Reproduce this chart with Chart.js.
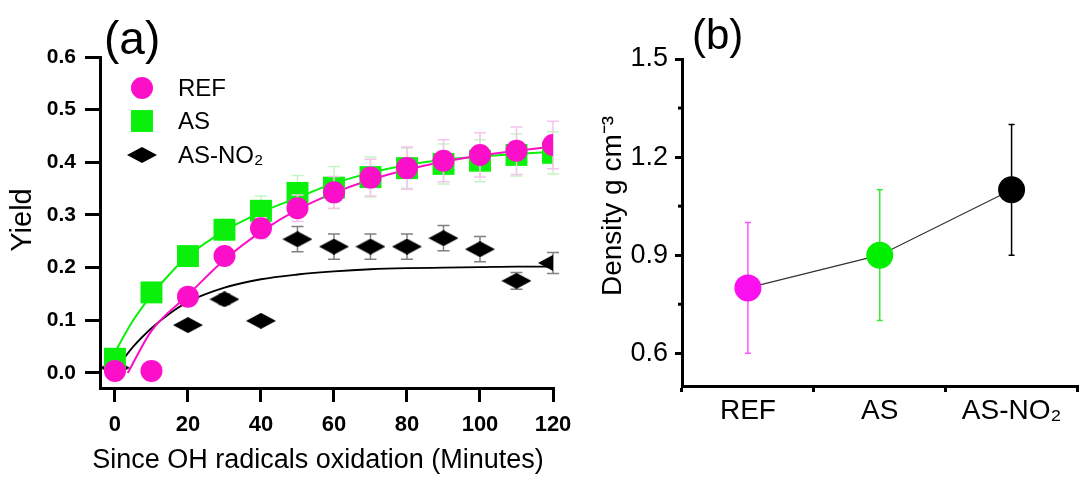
<!DOCTYPE html>
<html>
<head>
<meta charset="utf-8">
<script src="https://cdn.jsdelivr.net/npm/chart.js@4.4.1/dist/chart.umd.min.js"></script>
<style>
  html, body { margin: 0; padding: 0; background: #fff; }
  #wrap { position: relative; width: 1091px; height: 478px; overflow: hidden; }
  #chartA { position: absolute; left: 0; top: 0; }
  #chartB { position: absolute; left: 560px; top: 0; }
</style>
</head>
<body>
<div id="wrap">
  <canvas id="chartA" width="600" height="478"></canvas>
  <canvas id="chartB" width="531" height="478"></canvas>
</div>
<script>
// panel (a): yield vs time
const times = [0, 10, 20, 30, 40, 50, 60, 70, 80, 90, 100, 110, 120];
const refYield = [0.004, 0.004, 0.145, 0.222, 0.275, 0.313, 0.343, 0.371, 0.389, 0.403, 0.414, 0.422, 0.433];
const refErr = [0, 0, 0.01, 0.015, 0.02, 0.025, 0.03, 0.035, 0.04, 0.04, 0.042, 0.045, 0.045];
const asYield = [0.027, 0.153, 0.222, 0.272, 0.308, 0.342, 0.352, 0.372, 0.389, 0.397, 0.403, 0.414, 0.418];
const asErr = [0, 0.005, 0.01, 0.02, 0.028, 0.033, 0.04, 0.038, 0.038, 0.038, 0.04, 0.04, 0.04];
const no2Yield = [0.01, null, 0.091, 0.14, 0.099, 0.254, 0.24, 0.24, 0.24, 0.256, 0.235, 0.175, 0.209];
const no2Err = [0, null, 0, 0.01, 0, 0.024, 0.024, 0.024, 0.024, 0.024, 0.024, 0.016, 0.02];

// fitted curves
const refFitX = [3.5, 10, 20, 30, 40, 50, 60, 70, 80, 90, 100, 110, 120];
const refFitY = [0, 0.08, 0.148, 0.215, 0.268, 0.31, 0.342, 0.367, 0.386, 0.401, 0.413, 0.422, 0.43];
const asFitX = [0, 5, 10, 15, 20, 30, 40, 50, 60, 70, 80, 90, 100, 110, 120];
const asFitY = [0.04, 0.1, 0.148, 0.188, 0.222, 0.27, 0.305, 0.333, 0.36, 0.38, 0.395, 0.405, 0.411, 0.416, 0.42];
const no2FitX = [0, 5, 10, 15, 20, 30, 40, 50, 60, 70, 80, 90, 100, 110, 120];
const no2FitY = [0.005, 0.05, 0.085, 0.113, 0.135, 0.162, 0.178, 0.187, 0.193, 0.197, 0.199, 0.2, 0.201, 0.202, 0.202];

const xTicksA = [0, 20, 40, 60, 80, 100, 120];
const yTicksA = [0, 0.1, 0.2, 0.3, 0.4, 0.5, 0.6];

// panel (b): density
const groups = ["REF", "AS", "AS-NO\u2082"];
const density = [0.8, 0.9, 1.1];
const densityErr = [0.2, 0.2, 0.2];
const yTicksB = [0.6, 0.9, 1.2, 1.5];
const yMinorB = [0.75, 1.05, 1.35];

const FONT = "'Liberation Sans', Arial, sans-serif";
Chart.defaults.font.family = FONT;
Chart.defaults.color = "#000";

const MAGENTA = "#fc0fc8";
const GREEN = "#0bf00b";

function makeDiamond(w, h, color) {
  const c = document.createElement("canvas");
  c.width = w;
  c.height = h;
  const g = c.getContext("2d");
  g.fillStyle = color;
  g.beginPath();
  g.moveTo(w / 2, 0);
  g.lineTo(w, h / 2);
  g.lineTo(w / 2, h);
  g.lineTo(0, h / 2);
  g.closePath();
  g.fill();
  return c;
}
const diamond = makeDiamond(30, 16, "#000");

function pts(xs, ys) {
  return xs.map((x, i) => ({ x: x, y: ys[i] })).filter((p) => p.y !== null);
}
function errs(ys, es) {
  return es.filter((e, i) => ys[i] !== null);
}

// error bars, drawn under each dataset's markers
const errorBars = {
  id: "errorBars",
  beforeDatasetDraw(chart, args) {
    const ds = chart.data.datasets[args.index];
    if (!ds.errors) return;
    const ctx = chart.ctx;
    const yScale = chart.scales[args.meta.yAxisID];
    ctx.save();
    ctx.lineWidth = ds.errorWidth;
    args.meta.data.forEach((pt, i) => {
      const e = ds.errors[i];
      if (!e) return;
      const d = ds.data[i];
      const v = typeof d === "object" ? d.y : d;
      const top = yScale.getPixelForValue(v + e);
      const bot = yScale.getPixelForValue(v - e);
      const c = ds.errorCap;
      ctx.strokeStyle = Array.isArray(ds.errorColor) ? ds.errorColor[i] : ds.errorColor;
      ctx.beginPath();
      ctx.moveTo(pt.x, top);
      ctx.lineTo(pt.x, bot);
      ctx.moveTo(pt.x - c, top);
      ctx.lineTo(pt.x + c, top);
      ctx.moveTo(pt.x - c, bot);
      ctx.lineTo(pt.x + c, bot);
      ctx.stroke();
    });
    ctx.restore();
  }
};

// panel letter and axis titles as plain canvas text
const labels = {
  id: "labels",
  afterDraw(chart, args, opts) {
    const ctx = chart.ctx;
    opts.items.forEach((t) => {
      ctx.save();
      ctx.font = t.size + "px " + FONT;
      ctx.fillStyle = "#000";
      ctx.textAlign = t.align || "left";
      ctx.textBaseline = t.baseline || "alphabetic";
      ctx.translate(t.x, t.y);
      if (t.rotate) ctx.rotate(-Math.PI / 2);
      ctx.fillText(t.text, 0, 0);
      ctx.restore();
    });
  }
};

const legendA = {
  id: "legendA",
  afterDraw(chart) {
    const ctx = chart.ctx;
    const rows = [88, 121, 155];
    ctx.save();
    ctx.font = "24px " + FONT;
    ctx.textBaseline = "middle";
    for (let i = 0; i < 3; i++) {
      const ds = chart.data.datasets[i];
      ctx.fillStyle = ds.backgroundColor;
      Chart.helpers.drawPoint(ctx, { pointStyle: ds.pointStyle, radius: ds.pointRadius, rotation: 0, borderWidth: 0 }, 142, rows[i]);
      ctx.fillStyle = "#000";
      ctx.fillText(ds.label, 178, rows[i] + 1);
    }
    ctx.restore();
  }
};

new Chart(document.getElementById("chartA"), {
  type: "scatter",
  data: {
    datasets: [
      {
        label: "REF", data: pts(times, refYield), errors: errs(refYield, refErr),
        errorColor: "#f8c3ee", errorWidth: 1.5, errorCap: 6,
        backgroundColor: MAGENTA, pointStyle: "circle", pointRadius: 11, pointBorderWidth: 0
      },
      {
        label: "AS", data: pts(times, asYield), errors: errs(asYield, asErr),
        errorColor: "#c4f6c4", errorWidth: 1.5, errorCap: 6,
        backgroundColor: GREEN, pointStyle: "rect", pointRadius: 15.5, pointBorderWidth: 0
      },
      {
        label: "AS-NO\u2082", data: pts(times, no2Yield), errors: errs(no2Yield, no2Err),
        errorColor: "#808080", errorWidth: 1.5, errorCap: 6,
        backgroundColor: "#000", pointStyle: diamond, pointRadius: 10, pointBorderWidth: 0
      },
      {
        label: "REF fit", data: pts(refFitX, refFitY), showLine: true,
        borderColor: MAGENTA, borderWidth: 2, pointRadius: 0, cubicInterpolationMode: "monotone"
      },
      {
        label: "AS fit", data: pts(asFitX, asFitY), showLine: true,
        borderColor: GREEN, borderWidth: 2, pointRadius: 0, cubicInterpolationMode: "monotone"
      },
      {
        label: "AS-NO2 fit", data: pts(no2FitX, no2FitY), showLine: true,
        borderColor: "#000", borderWidth: 1.8, pointRadius: 0, cubicInterpolationMode: "monotone"
      }
    ]
  },
  options: {
    responsive: false,
    animation: false,
    layout: { padding: { top: 57, right: 47, left: 0, bottom: 0 } },
    plugins: {
      legend: { display: false },
      tooltip: { enabled: false },
      labels: {
        items: [
          { text: "(a)", x: 104, y: 54, size: 46 },
          { text: "Since OH radicals oxidation (Minutes)", x: 318, y: 461, size: 27, align: "center", baseline: "middle" },
          { text: "Yield", x: 23, y: 220, size: 29, align: "center", baseline: "middle", rotate: true }
        ]
      }
    },
    scales: {
      x: {
        type: "linear",
        min: -4.1,
        max: 120,
        afterBuildTicks: (s) => { s.ticks = xTicksA.map((v) => ({ value: v })); },
        afterFit: (s) => { s.height = 90; s.paddingLeft = 0; s.paddingRight = 0; },
        border: { color: "#000", width: 3 },
        grid: { drawOnChartArea: false, color: "#000", lineWidth: 3, tickLength: 14 },
        ticks: { color: "#000", autoSkip: false, maxRotation: 0, padding: 10, font: { size: 22, weight: "bold" } }
      },
      y: {
        min: -0.0285,
        max: 0.6,
        afterBuildTicks: (s) => { s.ticks = yTicksA.map((v) => ({ value: v })); },
        afterFit: (s) => { s.width = 100; s.paddingTop = 0; s.paddingBottom = 0; },
        border: { color: "#000", width: 3 },
        grid: { drawOnChartArea: false, color: "#000", lineWidth: 3, tickLength: 15 },
        ticks: { color: "#000", padding: 9, font: { size: 21, weight: "bold" }, callback: (v) => v.toFixed(1) }
      }
    }
  },
  plugins: [errorBars, labels, legendA]
});

// short minor ticks on the density axis
const minorTicksB = {
  id: "minorTicksB",
  afterDraw(chart) {
    const ctx = chart.ctx;
    const y = chart.scales.y;
    const left = chart.chartArea.left;
    ctx.save();
    ctx.strokeStyle = "#000";
    ctx.lineWidth = 3;
    yMinorB.forEach((v) => {
      const p = y.getPixelForValue(v);
      ctx.beginPath();
      ctx.moveTo(left - 4, p);
      ctx.lineTo(left, p);
      ctx.stroke();
    });
    ctx.restore();
  }
};

new Chart(document.getElementById("chartB"), {
  type: "line",
  data: {
    labels: groups,
    datasets: [
      {
        label: "Density",
        data: density,
        errors: densityErr,
        errorColor: ["#ff55ff", "#33ee33", "#000"],
        errorWidth: 1.5,
        errorCap: 3,
        borderColor: "#333",
        borderWidth: 1.2,
        pointRadius: 13.5,
        pointBorderWidth: 0,
        pointBackgroundColor: ["#fb10f0", "#00f000", "#000"]
      }
    ]
  },
  options: {
    responsive: false,
    animation: false,
    layout: { padding: { top: 59, right: 10, left: 0, bottom: 0 } },
    plugins: {
      legend: { display: false },
      tooltip: { enabled: false },
      labels: {
        items: [
          { text: "(b)", x: 132, y: 49, size: 42 },
          { text: "Density g cm\u207B\u00B3", x: 53, y: 206, size: 28, align: "center", baseline: "middle", rotate: true }
        ]
      }
    },
    scales: {
      x: {
        type: "category",
        offset: true,
        afterFit: (s) => { s.height = 92; s.paddingLeft = 0; s.paddingRight = 0; },
        border: { color: "#000", width: 3 },
        grid: { offset: true, drawOnChartArea: false, color: "#000", lineWidth: 3, tickLength: 6 },
        ticks: { color: "#000", padding: 2, maxRotation: 0, font: { size: 28 } }
      },
      y: {
        min: 0.5,
        max: 1.5,
        afterBuildTicks: (s) => { s.ticks = yTicksB.map((v) => ({ value: v })); },
        afterFit: (s) => { s.width = 122; s.paddingTop = 0; s.paddingBottom = 0; },
        border: { color: "#000", width: 3 },
        grid: { drawOnChartArea: false, color: "#000", lineWidth: 3, tickLength: 7 },
        ticks: { color: "#000", padding: 7, font: { size: 27 }, callback: (v) => v.toFixed(1) }
      }
    }
  },
  plugins: [errorBars, labels, minorTicksB]
});
</script>
</body>
</html>
